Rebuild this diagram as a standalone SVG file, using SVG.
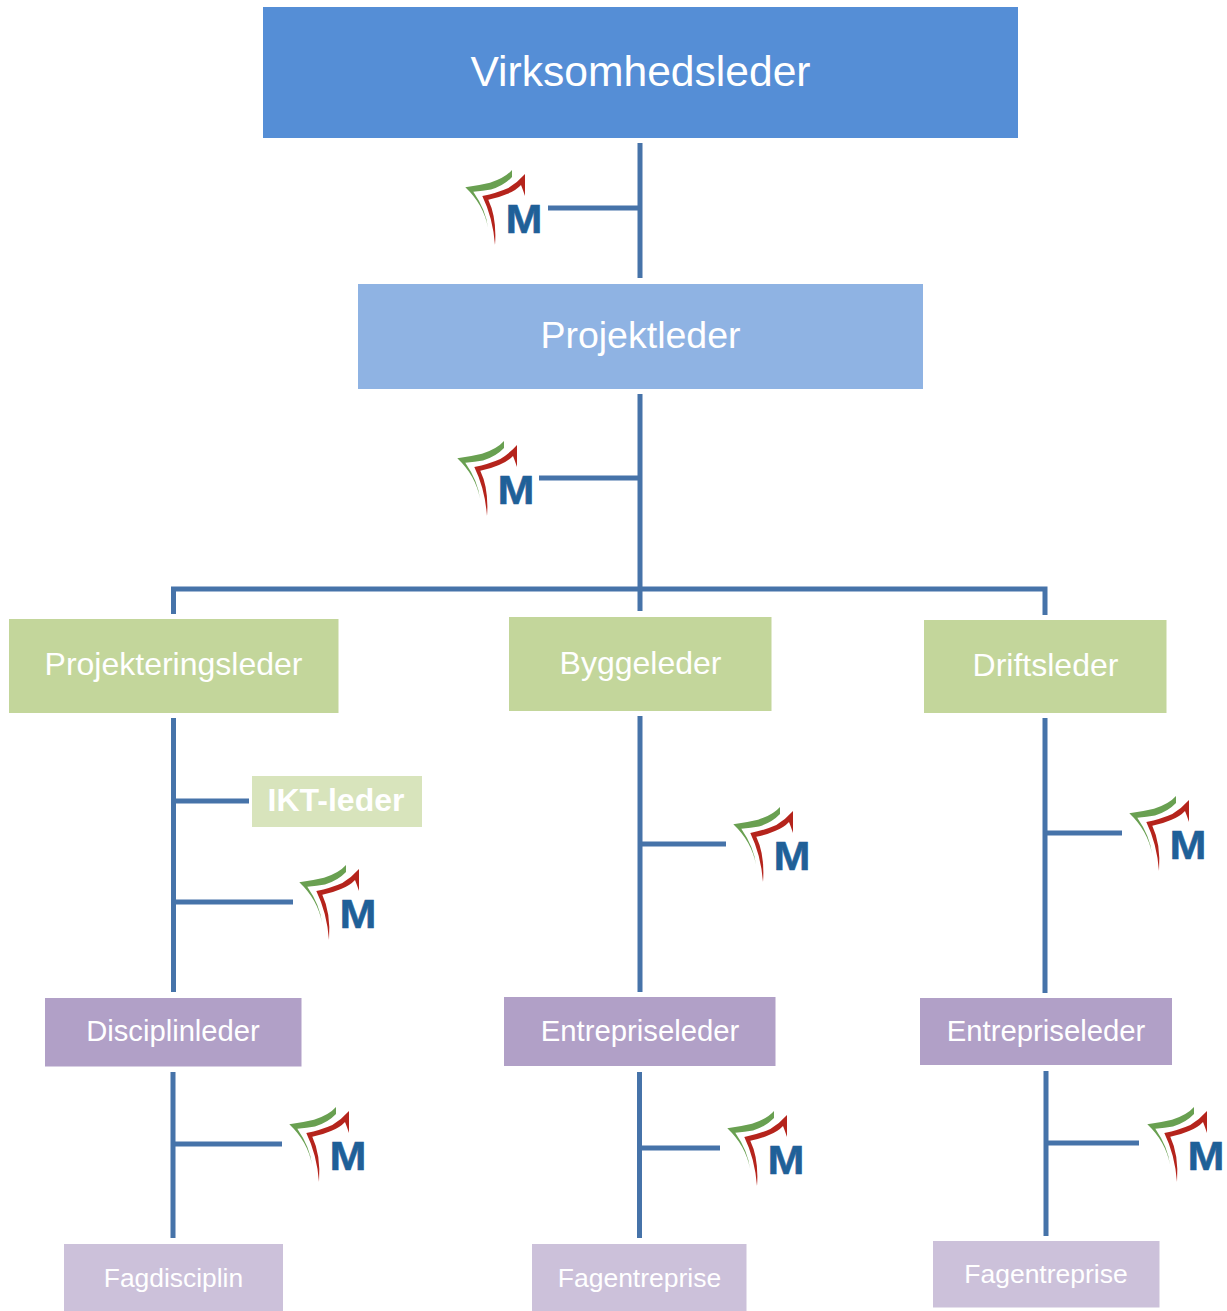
<svg xmlns="http://www.w3.org/2000/svg" width="1227" height="1311" viewBox="0 0 1227 1311">
<style>
text{font-family:"Liberation Sans",Arial,sans-serif;fill:#fff;text-anchor:middle}
.c{fill:none;stroke:#4673a9;stroke-width:5}
.mm{font-weight:bold;font-size:41px;fill:#1f6098;stroke:#1f6098;stroke-width:.5;text-anchor:start}
</style>
<defs>
<g id="logo">
<path d="M512 170Q505 178 490 182.700Q478 185.500 465.300 187.300Q484 205 488 228Q486 210 473.300 191.700Q483 191 491 189.500Q504 185.500 512 177Z" fill="#69a051"/>
<path d="M525 174Q518 182 508.300 188Q497 193 482.300 196Q493 218 495 245Q497 218 488.300 199.700Q498 198 507 194Q516 190.500 521 185Q523 190 525 196Z" fill="#b5241c"/>
<text class="mm" x="505.500" y="233" textLength="37" lengthAdjust="spacingAndGlyphs">M</text>
</g>
</defs>
<rect width="1227" height="1311" fill="#fff"/>
<g id="connectors" class="c">
<path class="c" d="M640 143V278M548 208H640"/>
<path class="c" d="M640 394V611M539 478H640M173.500 614V589H1045V615"/>
<path class="c" d="M173.500 718V992M176 801H249M176 902H293"/>
<path class="c" d="M640 716V992M642 844H726"/>
<path class="c" d="M1045 718V993M1047 833H1122"/>
<path class="c" d="M173 1072V1238M175 1144H282"/>
<path class="c" d="M639.500 1072V1238M641 1148H720"/>
<path class="c" d="M1046 1071V1236M1048 1143H1139"/>
</g>
<g id="n-virksomhedsleder"><rect x="263" y="7" width="755" height="131" fill="#558ed6"/><text x="640.500" y="86" font-size="42.600">Virksomhedsleder</text></g>
<g id="n-projektleder"><rect x="358" y="284" width="565" height="105" fill="#8fb3e3"/><text x="640.500" y="348" font-size="37.500">Projektleder</text></g>
<g id="n-projekteringsleder"><rect x="9" y="619" width="329.500" height="94" fill="#c3d69b"/><text x="173.500" y="675" font-size="32">Projekteringsleder</text></g>
<g id="n-byggeleder"><rect x="509" y="617" width="262.500" height="94" fill="#c3d69b"/><text x="640.500" y="674" font-size="32">Byggeleder</text></g>
<g id="n-driftsleder"><rect x="924" y="620" width="242.500" height="93" fill="#c3d69b"/><text x="1045.500" y="676" font-size="32">Driftsleder</text></g>
<g id="n-ikt-leder"><rect x="252" y="776" width="170" height="51" fill="#d8e4bc"/><text x="336" y="811" font-size="32" font-weight="bold">IKT-leder</text></g>
<g id="n-disciplinleder"><rect x="45" y="998" width="256.500" height="68.500" fill="#b1a0c7"/><text x="173" y="1041" font-size="29.200">Disciplinleder</text></g>
<g id="n-entrepriseleder-1"><rect x="504" y="997" width="271.500" height="69" fill="#b1a0c7"/><text x="640" y="1041" font-size="29.300">Entrepriseleder</text></g>
<g id="n-entrepriseleder-2"><rect x="920" y="998" width="252" height="67" fill="#b1a0c7"/><text x="1046" y="1041" font-size="29.300">Entrepriseleder</text></g>
<g id="n-fagdisciplin"><rect x="64" y="1244" width="219" height="67" fill="#ccc1da"/><text x="173.500" y="1287" font-size="26.400">Fagdisciplin</text></g>
<g id="n-fagentreprise-1"><rect x="532" y="1244" width="214.500" height="67" fill="#ccc1da"/><text x="639.500" y="1287" font-size="26.500">Fagentreprise</text></g>
<g id="n-fagentreprise-2"><rect x="933" y="1241" width="226.500" height="66.500" fill="#ccc1da"/><text x="1046" y="1283" font-size="26.500">Fagentreprise</text></g>
<g id="logos">
<use href="#logo"/>
<use href="#logo" x="-8" y="271"/>
<use href="#logo" x="-166" y="695"/>
<use href="#logo" x="268" y="637"/>
<use href="#logo" x="664" y="626"/>
<use href="#logo" x="-176" y="937"/>
<use href="#logo" x="262" y="941"/>
<use href="#logo" x="682" y="937"/>
</g>
</svg>
